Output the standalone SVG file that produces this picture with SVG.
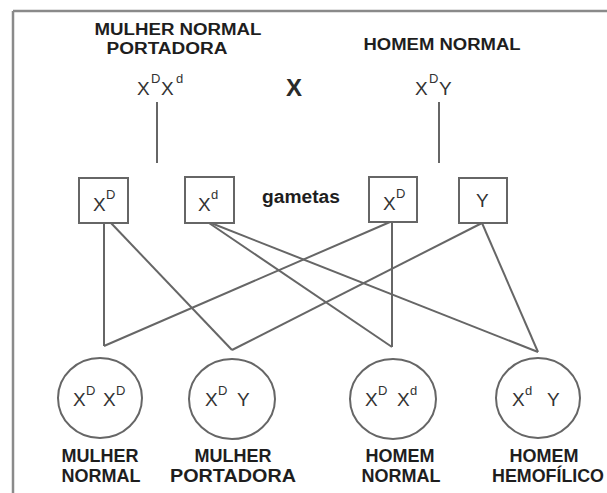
<svg xmlns="http://www.w3.org/2000/svg" width="607" height="493" viewBox="0 0 607 493">
<style>
.lbl{font-family:"Liberation Sans",Arial,sans-serif;font-weight:bold;font-size:18px;fill:#1e1e1e;text-anchor:middle}
.top{font-size:16px}
.g{font-family:"Liberation Sans",Arial,sans-serif;font-size:19px;fill:#333}
.s{font-size:13px}
.box{fill:#fff;stroke:#666;stroke-width:2}
.cir{fill:#fff;stroke:#666;stroke-width:2}
.ln{stroke:#666;stroke-width:2;fill:none}
</style>
<rect width="607" height="493" fill="#fff"/>
<g id="frame">
<line x1="13" y1="11" x2="607" y2="11" stroke="#8a8a8a" stroke-width="2.5"/>
<line x1="13" y1="11" x2="13" y2="493" stroke="#8a8a8a" stroke-width="2.5"/>
</g>
<g id="connectors">
<line class="ln" x1="157" y1="102" x2="157" y2="163"/>
<line class="ln" x1="439" y1="102" x2="439" y2="163"/>
<line class="ln" x1="104" y1="223" x2="104" y2="346"/>
<line class="ln" x1="111" y1="223" x2="232" y2="350"/>
<line class="ln" x1="209" y1="223" x2="392" y2="347"/>
<line class="ln" x1="211" y1="223" x2="538" y2="352"/>
<line class="ln" x1="392" y1="222" x2="392" y2="347"/>
<line class="ln" x1="390" y1="222" x2="104" y2="346"/>
<line class="ln" x1="482" y1="223" x2="232" y2="350"/>
<line class="ln" x1="482" y1="223" x2="538" y2="352"/>
</g>
<g id="mother">
<text class="lbl top" x="178" y="35" textLength="167" lengthAdjust="spacingAndGlyphs">MULHER NORMAL</text>
<text class="lbl top" x="167" y="54" textLength="121" lengthAdjust="spacingAndGlyphs">PORTADORA</text>
<text class="g" font-size="21"><tspan x="137" y="95">X</tspan><tspan class="s" x="151" y="83">D</tspan><tspan x="161" y="95">X</tspan><tspan class="s" x="176" y="83">d</tspan></text>
</g>
<g id="cross">
<text x="294" y="96" font-family="Liberation Sans,Arial,sans-serif" font-size="24" font-weight="bold" fill="#2a2a2a" text-anchor="middle">X</text>
</g>
<g id="father">
<text class="lbl top" x="442" y="50" textLength="157" lengthAdjust="spacingAndGlyphs">HOMEM NORMAL</text>
<text class="g" font-size="21"><tspan x="415" y="95">X</tspan><tspan class="s" x="429" y="83">D</tspan><tspan x="439" y="95">Y</tspan></text>
</g>
<g id="gamete1">
<rect class="box" x="79" y="178" width="49" height="45"/>
<text class="g"><tspan x="93" y="211">X</tspan><tspan class="s" x="106" y="199">D</tspan></text>
</g>
<g id="gamete2">
<rect class="box" x="185" y="177" width="49" height="46"/>
<text class="g"><tspan x="198" y="211">X</tspan><tspan class="s" x="211" y="199">d</tspan></text>
</g>
<g id="gametas-label">
<text class="lbl" x="301" y="203" textLength="78" lengthAdjust="spacingAndGlyphs" fill="#333">gametas</text>
</g>
<g id="gamete3">
<rect class="box" x="369" y="177" width="48" height="45"/>
<text class="g"><tspan x="383" y="210">X</tspan><tspan class="s" x="396" y="198">D</tspan></text>
</g>
<g id="gamete4">
<rect class="box" x="459" y="178" width="48" height="45"/>
<text class="g"><tspan x="476" y="207">Y</tspan></text>
</g>
<g id="child1">
<ellipse class="cir" cx="100" cy="398" rx="42" ry="40"/>
<text class="g"><tspan x="73" y="406">X</tspan><tspan class="s" x="86" y="395">D</tspan><tspan x="103" y="406">X</tspan><tspan class="s" x="116" y="395">D</tspan></text>
<text class="lbl" x="100" y="462">MULHER</text>
<text class="lbl" x="101" y="482">NORMAL</text>
</g>
<g id="child2">
<ellipse class="cir" cx="232" cy="399" rx="43" ry="40"/>
<text class="g"><tspan x="205" y="406">X</tspan><tspan class="s" x="218" y="395">D</tspan><tspan x="237" y="406">Y</tspan></text>
<text class="lbl" x="233" y="462">MULHER</text>
<text class="lbl" x="233" y="482" textLength="126" lengthAdjust="spacingAndGlyphs">PORTADORA</text>
</g>
<g id="child3">
<ellipse class="cir" cx="393" cy="399" rx="43" ry="40"/>
<text class="g"><tspan x="365" y="406">X</tspan><tspan class="s" x="378" y="395">D</tspan><tspan x="397" y="406">X</tspan><tspan class="s" x="410" y="395">d</tspan></text>
<text class="lbl" x="400" y="462">HOMEM</text>
<text class="lbl" x="401" y="482">NORMAL</text>
</g>
<g id="child4">
<ellipse class="cir" cx="538" cy="398" rx="42" ry="40"/>
<text class="g"><tspan x="512" y="406">X</tspan><tspan class="s" x="525" y="395">d</tspan><tspan x="547" y="406">Y</tspan></text>
<text class="lbl" x="544" y="462">HOMEM</text>
<text class="lbl" x="548" y="482" textLength="112" lengthAdjust="spacingAndGlyphs">HEMOFÍLICO</text>
</g>
</svg>
